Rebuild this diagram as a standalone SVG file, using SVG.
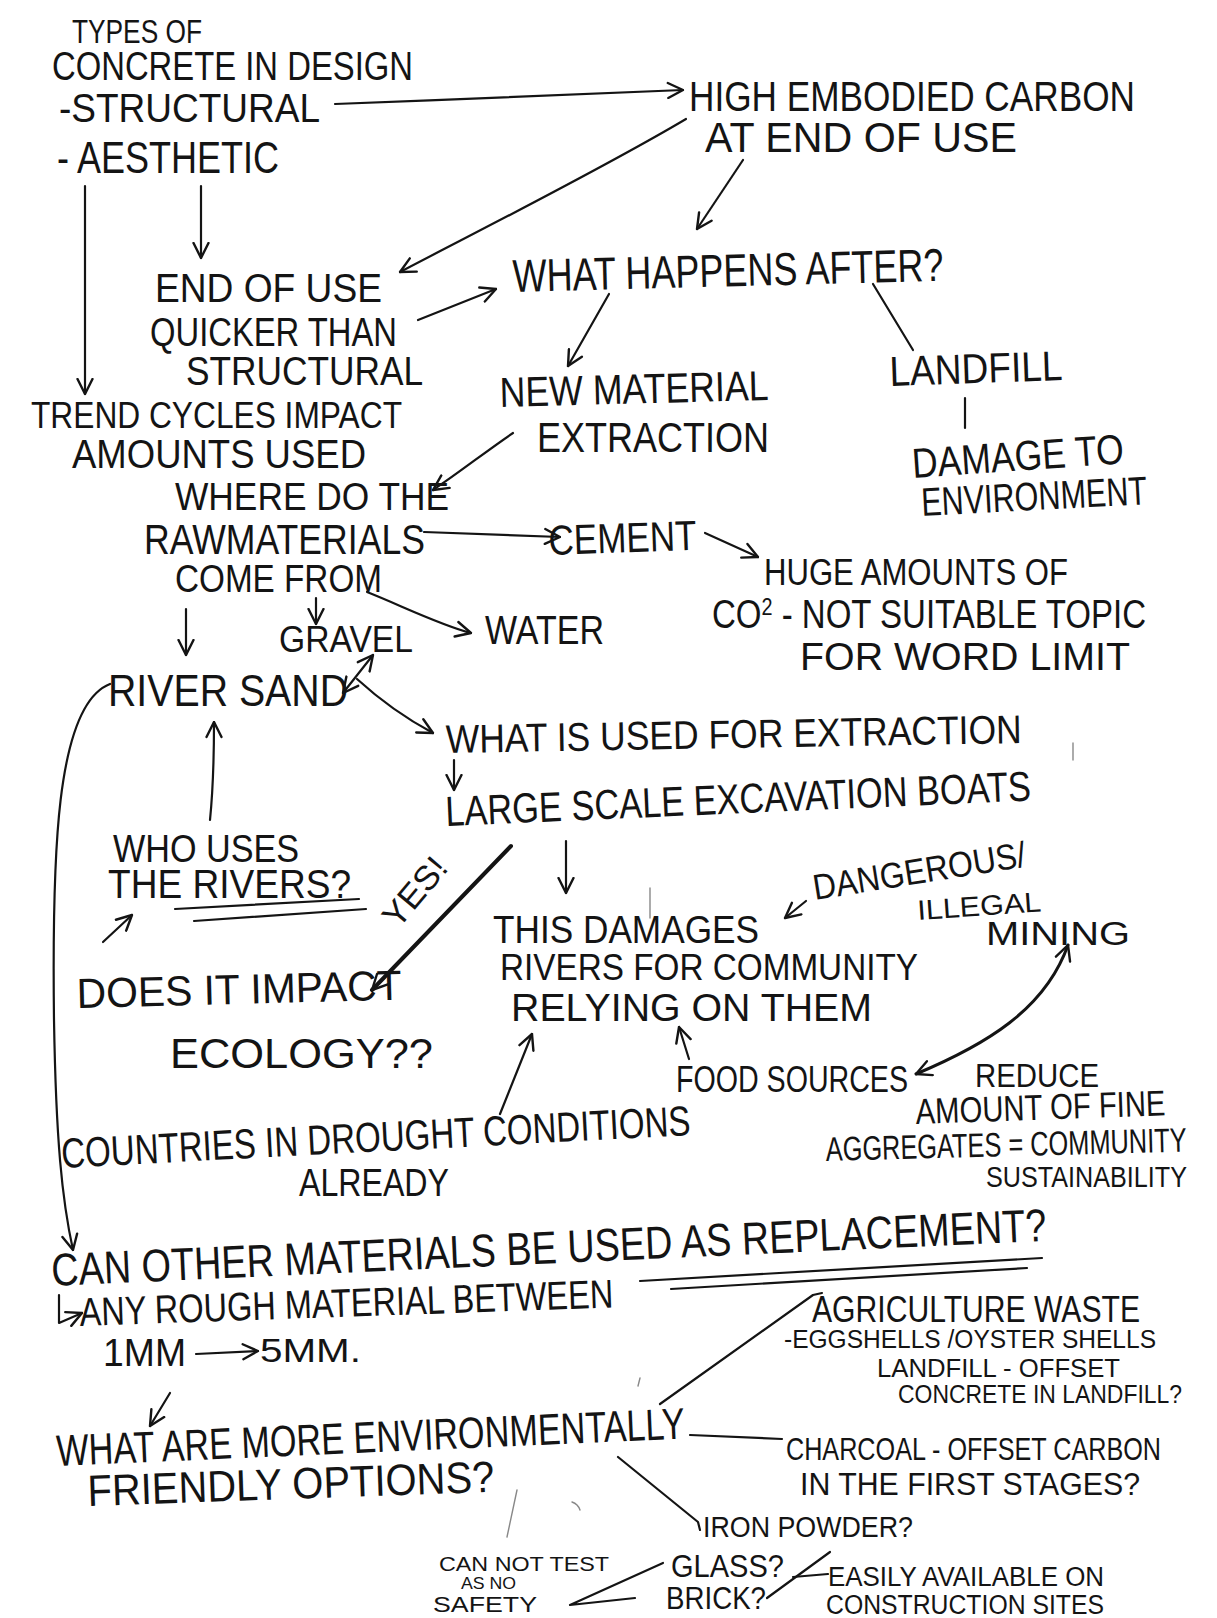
<svg xmlns="http://www.w3.org/2000/svg" width="1217" height="1618" viewBox="0 0 1217 1618">
<style>
text{font-family:"Liberation Sans","DejaVu Sans",Arial,sans-serif;fill:#141414}
.c{fill:none;stroke:#141414;stroke-width:2.2;stroke-linecap:round;stroke-linejoin:round}
.thick{stroke-width:4}
.faint{stroke:#888;stroke-width:1.4}
.a{marker-end:url(#ah)}
.aa{marker-end:url(#ah);marker-start:url(#ah)}
</style>
<defs>
<marker id="ah" viewBox="0 0 12 12" refX="11" refY="6" markerWidth="18" markerHeight="18" markerUnits="userSpaceOnUse" orient="auto-start-reverse">
<path d="M1,1 L11,6 L1,11" fill="none" stroke="#141414" stroke-width="1.6" stroke-linecap="round" stroke-linejoin="round"/>
</marker>
</defs>
<rect width="1217" height="1618" fill="#ffffff"/>

<g id="n-types">
<text x="72" y="43" font-size="34" textLength="130" lengthAdjust="spacingAndGlyphs">TYPES OF</text>
<text x="52" y="80" font-size="40" textLength="361" lengthAdjust="spacingAndGlyphs">CONCRETE IN DESIGN</text>
<text x="59" y="122" font-size="40" textLength="261" lengthAdjust="spacingAndGlyphs">-STRUCTURAL</text>
<text x="57" y="173" font-size="44" textLength="222" lengthAdjust="spacingAndGlyphs">- AESTHETIC</text>
</g>
<g id="n-high">
<text x="689" y="111" font-size="42" textLength="446" lengthAdjust="spacingAndGlyphs">HIGH EMBODIED CARBON</text>
<text x="705" y="152" font-size="42" textLength="312" lengthAdjust="spacingAndGlyphs">AT END OF USE</text>
</g>
<g id="n-what-happens">
<text x="513" y="292" font-size="46" textLength="431" lengthAdjust="spacingAndGlyphs" transform="rotate(-1.5 513 292)">WHAT HAPPENS AFTER?</text>
</g>
<g id="n-end-of-use">
<text x="155" y="302" font-size="40" textLength="227" lengthAdjust="spacingAndGlyphs">END OF USE</text>
<text x="150" y="346" font-size="40" textLength="247" lengthAdjust="spacingAndGlyphs">QUICKER THAN</text>
<text x="186" y="385" font-size="40" textLength="237" lengthAdjust="spacingAndGlyphs">STRUCTURAL</text>
</g>
<g id="n-trend">
<text x="31" y="428" font-size="36" textLength="371" lengthAdjust="spacingAndGlyphs">TREND CYCLES IMPACT</text>
<text x="72" y="468" font-size="40" textLength="294" lengthAdjust="spacingAndGlyphs">AMOUNTS USED</text>
</g>
<g id="n-new-material">
<text x="500" y="407" font-size="42" textLength="269" lengthAdjust="spacingAndGlyphs" transform="rotate(-1.5 500 407)">NEW MATERIAL</text>
<text x="537" y="452" font-size="42" textLength="232" lengthAdjust="spacingAndGlyphs">EXTRACTION</text>
</g>
<g id="n-landfill">
<text x="890" y="386" font-size="42" textLength="173" lengthAdjust="spacingAndGlyphs" transform="rotate(-2 890 386)">LANDFILL</text>
</g>
<g id="n-damage">
<text x="913" y="478" font-size="42" textLength="212" lengthAdjust="spacingAndGlyphs" transform="rotate(-4 913 478)">DAMAGE TO</text>
<text x="922" y="516" font-size="40" textLength="226" lengthAdjust="spacingAndGlyphs" transform="rotate(-3 922 516)">ENVIRONMENT</text>
</g>
<g id="n-where">
<text x="175" y="510" font-size="38" textLength="274" lengthAdjust="spacingAndGlyphs">WHERE DO THE</text>
<text x="144" y="554" font-size="42" textLength="281" lengthAdjust="spacingAndGlyphs">RAWMATERIALS</text>
<text x="175" y="592" font-size="38" textLength="207" lengthAdjust="spacingAndGlyphs">COME FROM</text>
</g>
<g id="n-cement">
<text x="549" y="555" font-size="42" textLength="148" lengthAdjust="spacingAndGlyphs" transform="rotate(-2 549 555)">CEMENT</text>
</g>
<g id="n-huge">
<text x="764" y="585" font-size="36" textLength="304" lengthAdjust="spacingAndGlyphs">HUGE AMOUNTS OF</text>
<text x="712" y="628" font-size="40" textLength="434" lengthAdjust="spacingAndGlyphs">CO<tspan font-size="24" baseline-shift="super">2</tspan> - NOT SUITABLE TOPIC</text>
<text x="800" y="670" font-size="38" textLength="330" lengthAdjust="spacingAndGlyphs">FOR WORD LIMIT</text>
</g>
<g id="n-gravel">
<text x="279" y="652" font-size="36" textLength="134" lengthAdjust="spacingAndGlyphs">GRAVEL</text>
</g>
<g id="n-water">
<text x="485" y="644" font-size="40" textLength="119" lengthAdjust="spacingAndGlyphs">WATER</text>
</g>
<g id="n-river-sand">
<text x="108" y="706" font-size="44" textLength="240" lengthAdjust="spacingAndGlyphs">RIVER SAND</text>
</g>
<g id="n-what-used">
<text x="446" y="753" font-size="40" textLength="576" lengthAdjust="spacingAndGlyphs" transform="rotate(-1 446 753)">WHAT IS USED FOR EXTRACTION</text>
</g>
<g id="n-large">
<text x="446" y="826" font-size="42" textLength="586" lengthAdjust="spacingAndGlyphs" transform="rotate(-2.5 446 826)">LARGE SCALE EXCAVATION BOATS</text>
</g>
<g id="n-who">
<text x="113" y="862" font-size="38" textLength="186" lengthAdjust="spacingAndGlyphs">WHO USES</text>
<text x="108" y="898" font-size="40" textLength="243" lengthAdjust="spacingAndGlyphs">THE RIVERS?</text>
<path class="c" d="M175,909 L359,899"/>
<path class="c" d="M194,921 L366,909"/>
</g>
<g id="n-does">
<text x="77" y="1008" font-size="42" textLength="325" lengthAdjust="spacingAndGlyphs" transform="rotate(-1.5 77 1008)">DOES IT IMPACT</text>
<text x="170" y="1068" font-size="42" textLength="263" lengthAdjust="spacingAndGlyphs">ECOLOGY??</text>
</g>
<g id="n-this-damages">
<text x="493" y="943" font-size="38" textLength="266" lengthAdjust="spacingAndGlyphs">THIS DAMAGES</text>
<text x="500" y="980" font-size="36" textLength="418" lengthAdjust="spacingAndGlyphs">RIVERS FOR COMMUNITY</text>
<text x="511" y="1021" font-size="38" textLength="361" lengthAdjust="spacingAndGlyphs">RELYING ON THEM</text>
</g>
<g id="n-dangerous">
<text x="815" y="900" font-size="36" textLength="215" lengthAdjust="spacingAndGlyphs" transform="rotate(-9 815 900)">DANGEROUS/</text>
<text x="918" y="920" font-size="28" textLength="124" lengthAdjust="spacingAndGlyphs" transform="rotate(-4 918 920)">ILLEGAL</text>
<text x="986" y="945" font-size="33" textLength="144" lengthAdjust="spacingAndGlyphs">MINING</text>
</g>
<g id="n-food">
<text x="676" y="1092" font-size="36" textLength="232" lengthAdjust="spacingAndGlyphs">FOOD SOURCES</text>
</g>
<g id="n-reduce">
<text x="975" y="1087" font-size="34" textLength="124" lengthAdjust="spacingAndGlyphs">REDUCE</text>
<text x="916" y="1124" font-size="36" textLength="250" lengthAdjust="spacingAndGlyphs" transform="rotate(-2 916 1124)">AMOUNT OF FINE</text>
<text x="826" y="1161" font-size="34" textLength="361" lengthAdjust="spacingAndGlyphs" transform="rotate(-1.5 826 1161)">AGGREGATES = COMMUNITY</text>
<text x="986" y="1187" font-size="30" textLength="201" lengthAdjust="spacingAndGlyphs">SUSTAINABILITY</text>
</g>
<g id="n-countries">
<text x="62" y="1168" font-size="42" textLength="630" lengthAdjust="spacingAndGlyphs" transform="rotate(-3 62 1168)">COUNTRIES IN DROUGHT CONDITIONS</text>
<text x="299" y="1196" font-size="38" textLength="150" lengthAdjust="spacingAndGlyphs">ALREADY</text>
</g>
<g id="n-can-other">
<text x="52" y="1286" font-size="46" textLength="996" lengthAdjust="spacingAndGlyphs" transform="rotate(-2.6 52 1286)">CAN OTHER MATERIALS BE USED AS REPLACEMENT?</text>
<path class="c" d="M640,1281 L1042,1258"/>
<path class="c" d="M671,1289 L1027,1268"/>
</g>
<g id="n-any-rough">
<path class="c a" d="M59,1295 L59,1323 L82,1313"/>
<text x="80" y="1326" font-size="40" textLength="534" lengthAdjust="spacingAndGlyphs" transform="rotate(-2 80 1326)">ANY ROUGH MATERIAL BETWEEN</text>
<text x="103" y="1366" font-size="38" textLength="83" lengthAdjust="spacingAndGlyphs">1MM</text>
<path class="c a" d="M196,1354 L258,1351"/>
<text x="260" y="1362" font-size="34" textLength="101" lengthAdjust="spacingAndGlyphs">5MM.</text>
</g>
<g id="n-what-are">
<text x="57" y="1466" font-size="44" textLength="629" lengthAdjust="spacingAndGlyphs" transform="rotate(-2.5 57 1466)">WHAT ARE MORE ENVIRONMENTALLY</text>
<text x="88" y="1506" font-size="44" textLength="407" lengthAdjust="spacingAndGlyphs" transform="rotate(-2 88 1506)">FRIENDLY OPTIONS?</text>
</g>
<g id="n-agri">
<text x="812" y="1322" font-size="36" textLength="328" lengthAdjust="spacingAndGlyphs">AGRICULTURE WASTE</text>
<text x="784" y="1348" font-size="26" textLength="372" lengthAdjust="spacingAndGlyphs">-EGGSHELLS /OYSTER SHELLS</text>
<text x="877" y="1377" font-size="25" textLength="243" lengthAdjust="spacingAndGlyphs">LANDFILL - OFFSET</text>
<text x="898" y="1403" font-size="25" textLength="284" lengthAdjust="spacingAndGlyphs">CONCRETE IN LANDFILL?</text>
</g>
<g id="n-charcoal">
<text x="786" y="1460" font-size="31" textLength="375" lengthAdjust="spacingAndGlyphs">CHARCOAL - OFFSET CARBON</text>
<text x="800" y="1495" font-size="31" textLength="340" lengthAdjust="spacingAndGlyphs">IN THE FIRST STAGES?</text>
</g>
<g id="n-iron">
<text x="703" y="1537" font-size="29" textLength="210" lengthAdjust="spacingAndGlyphs">IRON POWDER?</text>
</g>
<g id="n-glass">
<text x="671" y="1577" font-size="31" textLength="113" lengthAdjust="spacingAndGlyphs">GLASS?</text>
<text x="666" y="1609" font-size="31" textLength="100" lengthAdjust="spacingAndGlyphs">BRICK?</text>
</g>
<g id="n-cannot">
<text x="439" y="1571" font-size="20" textLength="170" lengthAdjust="spacingAndGlyphs">CAN NOT TEST</text>
<text x="461" y="1589" font-size="17" textLength="55" lengthAdjust="spacingAndGlyphs">AS NO</text>
<text x="433" y="1612" font-size="22" textLength="104" lengthAdjust="spacingAndGlyphs">SAFETY</text>
</g>
<g id="n-easily">
<text x="828" y="1586" font-size="27" textLength="276" lengthAdjust="spacingAndGlyphs">EASILY AVAILABLE ON</text>
<text x="826" y="1614" font-size="27" textLength="278" lengthAdjust="spacingAndGlyphs">CONSTRUCTION SITES</text>
</g>

<g id="connectors">
<path class="c a" d="M335,104 C450,100 560,94 683,90"/>
<path class="c a" d="M686,119 C600,170 480,230 400,272"/>
<path class="c a" d="M743,160 L697,229"/>
<path class="c a" d="M85,186 L85,394"/>
<path class="c a" d="M201,186 L201,258"/>
<path class="c a" d="M418,320 L496,289"/>
<path class="c a" d="M609,294 L568,366"/>
<path class="c" d="M873,284 L913,350"/>
<path class="c" d="M965,398 L965,428"/>
<path class="c a" d="M513,433 C485,452 460,472 433,490"/>
<path class="c a" d="M424,532 L560,537"/>
<path class="c a" d="M705,533 L758,557"/>
<path class="c a" d="M186,609 L186,655"/>
<path class="c a" d="M316,598 L316,624"/>
<path class="c a" d="M367,592 C400,605 440,625 471,633"/>
<path class="c aa" d="M343,693 L373,655"/>
<path class="c a" d="M357,679 C380,700 405,718 433,733"/>
<path class="c a" d="M454,760 L454,790"/>
<path class="c a" d="M566,841 L566,893"/>
<path class="c thick a" d="M511,846 L372,990"/>
<text x="398" y="930" font-size="34" textLength="80" lengthAdjust="spacingAndGlyphs" transform="rotate(-50 398 930)">YES!</text>
<path class="c a" d="M806,901 L785,918"/>
<path class="c aa" style="stroke-width:3" d="M916,1074 C985,1045 1045,1010 1068,945"/>
<path class="c a" d="M689,1059 L679,1027"/>
<path class="c a" d="M210,820 C213,790 214,760 214,722"/>
<path class="c a" d="M103,942 L132,915"/>
<path class="c a" d="M500,1114 L532,1034"/>
<path class="c a" d="M110,684 C55,705 52,860 54,1020 C56,1140 62,1200 73,1250"/>
<path class="c a" d="M170,1393 L150,1426"/>
<path class="c" d="M660,1404 L813,1295 L822,1293"/>
<path class="c" d="M690,1435 L782,1439"/>
<path class="c" d="M618,1457 L698,1522 L700,1530"/>
<path class="c" d="M663,1563 L570,1605 L635,1598"/>
<path class="c" d="M830,1552 L767,1598"/>
<path class="c" d="M793,1577 L828,1574"/>
<path class="c faint" d="M1073,743 L1073,760"/>
<path class="c faint" d="M650,888 L650,918"/>
<path class="c faint" d="M640,1378 L638,1386"/>
<path class="c faint" d="M517,1490 L507,1537"/>
<path class="c faint" d="M572,1502 Q578,1504 580,1510"/>
</g>
</svg>
